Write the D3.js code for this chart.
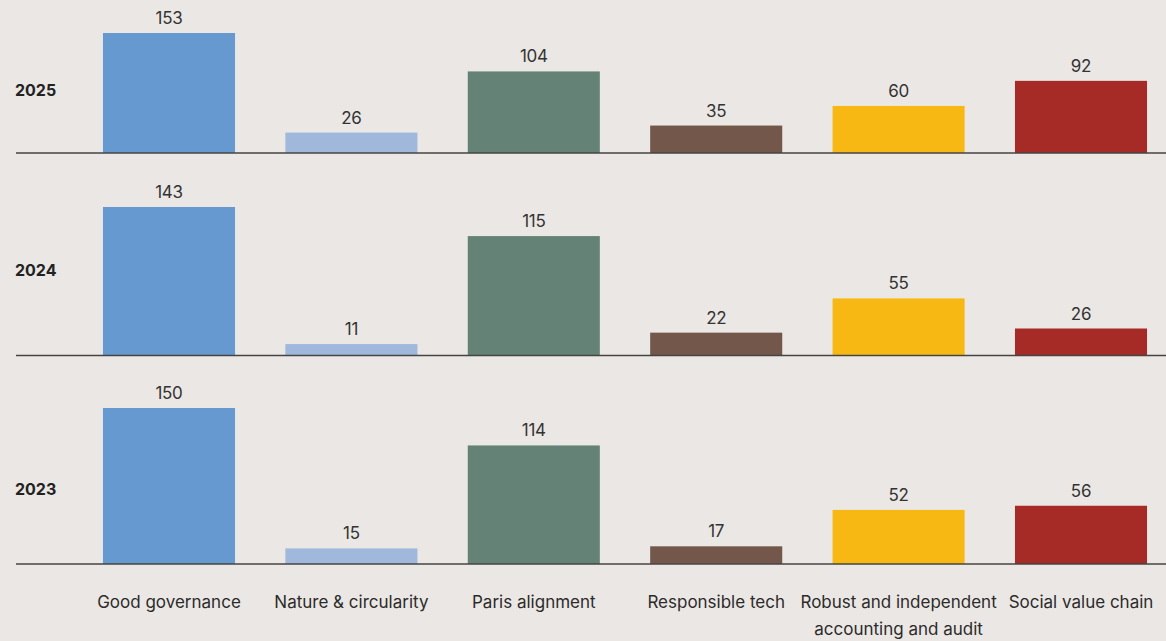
<!DOCTYPE html>
<html>
<head>
<meta charset="utf-8">
<script src="https://cdn.jsdelivr.net/npm/d3@7"></script>
<style>
  html, body { margin: 0; padding: 0; background: #ebe7e4; }
  svg { display: block; }
  text { font-family: Inter, "Liberation Sans", sans-serif; }
</style>
</head>
<body>
<svg id="chart" width="1166" height="641"></svg>
<script>
// Categories and their colours
const categories = [
  "Good governance",
  "Nature & circularity",
  "Paris alignment",
  "Responsible tech",
  "Robust and independent accounting and audit",
  "Social value chain"
];
const categoryLines = [
  ["Good governance"],
  ["Nature & circularity"],
  ["Paris alignment"],
  ["Responsible tech"],
  ["Robust and independent", "accounting and audit"],
  ["Social value chain"]
];
const colors = ["#6699cf", "#9fb8db", "#658276", "#73574a", "#f8b814", "#a62a26"];

// Values per year
const years = ["2025", "2024", "2023"];
const values2025 = [153, 26, 104, 35, 60, 92];
const values2024 = [143, 11, 115, 22, 55, 26];
const values2023 = [150, 15, 114, 17, 52, 56];
const seriesByYear = [values2025, values2024, values2023];

// Panel geometry: baseline, y reached by the panel's largest value, year label y
const panels = [
  { baseline: 153, top: 33, labelY: 96 },
  { baseline: 355.5, top: 207, labelY: 276 },
  { baseline: 564, top: 408, labelY: 495 }
];

const svg = d3.select("#chart");

const x = d3.scaleBand()
  .domain(categories)
  .range([77.8, 1172.2])
  .paddingInner(0.276)
  .paddingOuter(0.138);

years.forEach((year, i) => {
  const vals = seriesByYear[i];
  const p = panels[i];
  const y = d3.scaleLinear()
    .domain([0, d3.max(vals)])
    .range([p.baseline, p.top]);

  const g = svg.append("g");

  g.selectAll("rect")
    .data(vals)
    .join("rect")
    .attr("x", (d, j) => x(categories[j]))
    .attr("width", x.bandwidth())
    .attr("y", d => y(d))
    .attr("height", d => y(0) - y(d))
    .attr("fill", (d, j) => colors[j]);

  g.selectAll("text.val")
    .data(vals)
    .join("text")
    .attr("class", "val")
    .attr("x", (d, j) => x(categories[j]) + x.bandwidth() / 2)
    .attr("y", d => y(d) - 9)
    .attr("text-anchor", "middle")
    .attr("font-size", 17)
    .attr("letter-spacing", -0.3)
    .attr("fill", "#333")
    .text(d => d);

  // Baseline
  g.append("line")
    .attr("x1", 16).attr("x2", 1166)
    .attr("y1", p.baseline).attr("y2", p.baseline)
    .attr("stroke", "#444").attr("stroke-width", 1.5);

  // Year label
  g.append("text")
    .attr("x", 15)
    .attr("y", p.labelY)
    .attr("font-size", 16)
    .attr("font-weight", 700)
    .attr("fill", "#222")
    .text(year);
});

// Category labels
const catG = svg.append("g");
categories.forEach((c, j) => {
  const cx = x(c) + x.bandwidth() / 2;
  const t = catG.append("text")
    .attr("x", cx)
    .attr("y", 608)
    .attr("text-anchor", "middle")
    .attr("font-size", 17)
    .attr("fill", "#2b2b2b");
  categoryLines[j].forEach((line, k) => {
    t.append("tspan")
      .attr("x", cx)
      .attr("dy", k === 0 ? 0 : 27)
      .text(line);
  });
});
</script>
</body>
</html>
